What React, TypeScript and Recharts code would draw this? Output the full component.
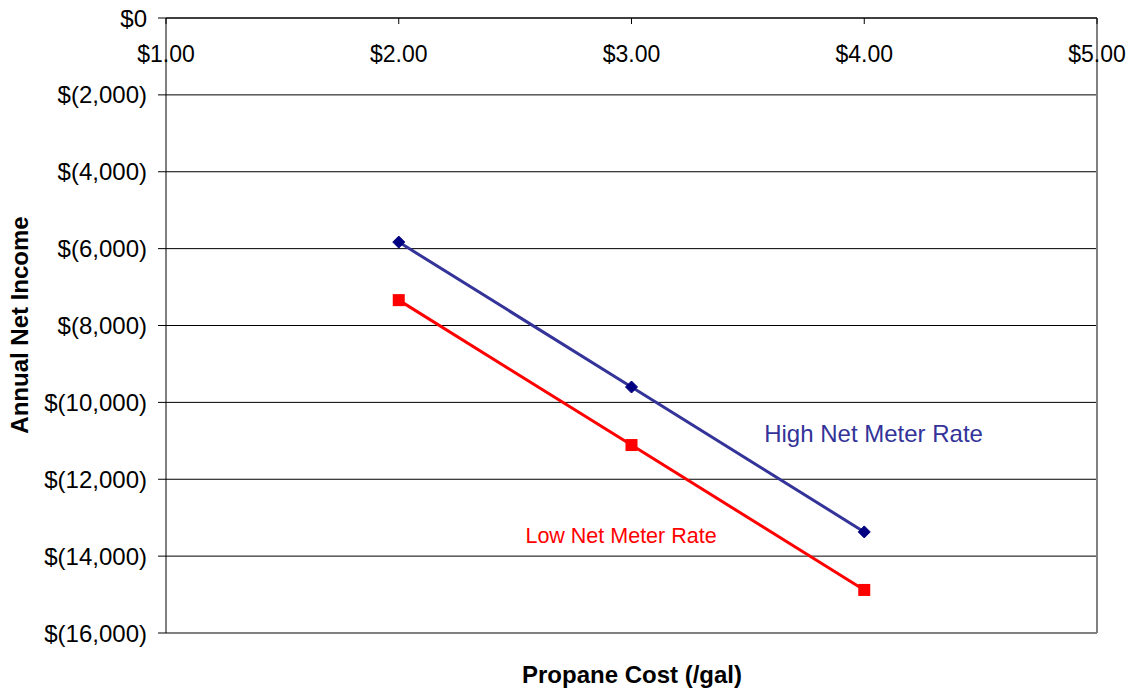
import React from 'react'
import {
  LineChart,
  Line,
  XAxis,
  YAxis,
  CartesianGrid,
  ReferenceLine,
  ReferenceDot,
} from 'recharts'

const propaneCost = [2, 3, 4]
const highNetMeter = [-5830, -9600, -13370]
const lowNetMeter = [-7340, -11110, -14880]
const xTicks = [1, 2, 3, 4, 5]
const yTicks = [0, -2000, -4000, -6000, -8000, -10000, -12000, -14000, -16000]

const FONT = 'Arial, "Liberation Sans", sans-serif'

const data = propaneCost.map((c, i) => ({
  cost: c,
  high: highNetMeter[i],
  low: lowNetMeter[i],
}))

function formatMoney(v: number): string {
  if (v === 0) return '$0'
  const s = Math.abs(v).toLocaleString('en-US')
  return v < 0 ? `$(${s})` : `$${s}`
}

// x labels sit under the top axis line, inside the plot
function XTick(props: any) {
  const { x, payload } = props
  const y = 18
  return (
    <g>
      <line x1={x} y1={y} x2={x} y2={y + 6} stroke="#000" strokeWidth={1} />
      <text
        x={x}
        y={y + 44}
        textAnchor="middle"
        fill="#000"
        fontSize={23}
        fontFamily={FONT}
      >
        {`$${Number(payload.value).toFixed(2)}`}
      </text>
    </g>
  )
}

function Diamond(props: any) {
  const { cx, cy } = props
  if (cx == null || cy == null) return null
  const r = 6
  return (
    <polygon
      points={`${cx},${cy - r} ${cx + r},${cy} ${cx},${cy + r} ${cx - r},${cy}`}
      fill="#000080"
      stroke="#000080"
    />
  )
}

function Square(props: any) {
  const { cx, cy } = props
  if (cx == null || cy == null) return null
  const s = 12
  return <rect x={cx - s / 2} y={cy - s / 2} width={s} height={s} fill="#ff0000" />
}

export default function App() {
  return (
    <div style={{ position: 'absolute', left: 0, top: 0, width: 1131, height: 691, background: '#fff' }}>
      <LineChart
        width={1131}
        height={691}
        data={data}
        margin={{ top: 16, right: 34, bottom: 58, left: 0 }}
      >
        <CartesianGrid vertical={false} stroke="#000" strokeWidth={1} />
        <XAxis
          dataKey="cost"
          type="number"
          domain={[1, 5]}
          ticks={xTicks}
          orientation="top"
          height={2}
          tickSize={0}
          tickMargin={0}
          tickLine={false}
          axisLine={{ stroke: '#000' }}
          tick={XTick}
          interval={0}
        />
        <YAxis
          type="number"
          domain={[-16000, 0]}
          ticks={yTicks}
          width={166}
          tickSize={8}
          tickMargin={11}
          tickLine={{ stroke: '#000' }}
          axisLine={{ stroke: '#000' }}
          tick={{ fill: '#000', fontSize: 24, fontFamily: FONT }}
          tickFormatter={formatMoney}
          interval={0}
        />
        <ReferenceLine x={5} stroke="#808080" strokeWidth={2} />
        <ReferenceLine y={-16000} stroke="#808080" strokeWidth={2} />
        <Line
          dataKey="high"
          stroke="#333399"
          strokeWidth={3}
          dot={<Diamond />}
          activeDot={false}
          isAnimationActive={false}
        />
        <Line
          dataKey="low"
          stroke="#ff0000"
          strokeWidth={3}
          dot={<Square />}
          activeDot={false}
          isAnimationActive={false}
        />
        <ReferenceDot
          x={4.04}
          y={-10820}
          r={0}
          stroke="none"
          label={{ value: 'High Net Meter Rate', fill: '#333399', fontSize: 24, fontFamily: FONT, position: 'center' }}
        />
        <ReferenceDot
          x={2.955}
          y={-13450}
          r={0}
          stroke="none"
          label={{ value: 'Low Net Meter Rate', fill: '#ff0000', fontSize: 21.5, fontFamily: FONT, position: 'center' }}
        />
      </LineChart>
      <div
        style={{
          position: 'absolute',
          left: 20,
          top: 325,
          transform: 'translate(-50%, -50%) rotate(-90deg)',
          whiteSpace: 'nowrap',
          fontFamily: FONT,
          fontWeight: 'bold',
          fontSize: 24,
          color: '#000',
        }}
      >
        Annual Net Income
      </div>
      <div
        style={{
          position: 'absolute',
          left: 632,
          top: 675,
          transform: 'translate(-50%, -50%)',
          whiteSpace: 'nowrap',
          fontFamily: FONT,
          fontWeight: 'bold',
          fontSize: 24,
          color: '#000',
        }}
      >
        Propane Cost (/gal)
      </div>
    </div>
  )
}
